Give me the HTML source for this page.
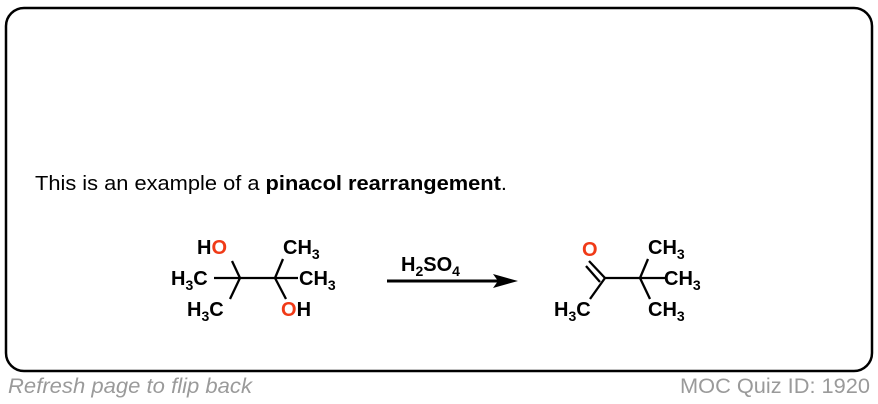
<!DOCTYPE html>
<html><head><meta charset="utf-8"><style>
html,body{margin:0;padding:0;background:#fff;width:878px;height:404px;overflow:hidden}
svg{display:block}
</style></head><body>
<svg width="878" height="404" viewBox="0 0 878 404" font-family="Liberation Sans, Arial, sans-serif">
<rect x="6" y="8" width="866" height="363" rx="18" ry="18" fill="#fff" stroke="#000" stroke-width="2.5"/>
<text x="35" y="190" font-size="20.5" fill="#000" textLength="472" lengthAdjust="spacingAndGlyphs">This is an example of a <tspan font-weight="bold">pinacol rearrangement</tspan>.</text>
<g font-size="20" font-weight="bold" fill="#000">
<text x="197" y="254">H<tspan fill="#f03a17">O</tspan></text>
<text x="171" y="285">H<tspan font-size="14" dy="5">3</tspan><tspan dy="-5">C</tspan></text>
<text x="187" y="316">H<tspan font-size="14" dy="5">3</tspan><tspan dy="-5">C</tspan></text>
<text x="283" y="254">CH<tspan font-size="14" dy="5">3</tspan></text>
<text x="299" y="285">CH<tspan font-size="14" dy="5">3</tspan></text>
<text x="281" y="316"><tspan fill="#f03a17">O</tspan>H</text>
<text x="582" y="256" fill="#f03a17">O</text>
<text x="554" y="316">H<tspan font-size="14" dy="5">3</tspan><tspan dy="-5">C</tspan></text>
<text x="648" y="254">CH<tspan font-size="14" dy="5">3</tspan></text>
<text x="664" y="285">CH<tspan font-size="14" dy="5">3</tspan></text>
<text x="648" y="316">CH<tspan font-size="14" dy="5">3</tspan></text>
<text x="401" y="271">H<tspan font-size="14" dy="5">2</tspan><tspan dy="-5">SO</tspan><tspan font-size="14" dy="5">4</tspan></text>
</g>
<g stroke="#000" stroke-width="2.3" fill="none">
<line x1="214" y1="278" x2="298" y2="278"/>
<line x1="240" y1="278" x2="232" y2="261"/>
<line x1="240" y1="278" x2="230" y2="299"/>
<line x1="275" y1="278" x2="283" y2="259"/>
<line x1="275" y1="278" x2="286" y2="299"/>
<line x1="605" y1="278" x2="665" y2="278"/>
<line x1="605" y1="278" x2="589" y2="261"/>
<line x1="600" y1="282" x2="586" y2="266"/>
<line x1="605" y1="278" x2="590" y2="299"/>
<line x1="640" y1="278" x2="648" y2="259"/>
<line x1="640" y1="278" x2="650" y2="299"/>
</g>
<line x1="387" y1="281" x2="500" y2="281" stroke="#000" stroke-width="3"/>
<polygon points="518,281 493,274 498,281 493,288" fill="#000"/>
<text x="8" y="393" font-size="21.5" font-style="italic" fill="#9a9a9a" textLength="244" lengthAdjust="spacingAndGlyphs">Refresh page to flip back</text>
<text x="680" y="393" font-size="21.5" fill="#9a9a9a" textLength="190" lengthAdjust="spacingAndGlyphs">MOC Quiz ID: 1920</text>
</svg>
</body></html>
